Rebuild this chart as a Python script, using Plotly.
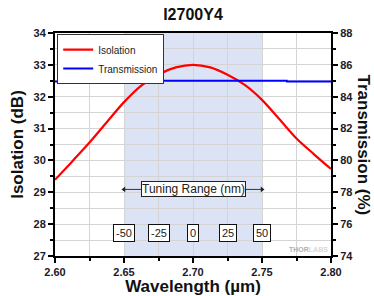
import plotly.graph_objects as go

# Data
wl_iso = [2.60, 2.6125, 2.625, 2.6375, 2.65, 2.6625, 2.675, 2.6875, 2.70,
          2.7125, 2.725, 2.7375, 2.75, 2.7625, 2.775, 2.7875, 2.80]
isolation = [29.39, 29.97, 30.56, 31.2, 31.83, 32.35, 32.7, 32.92, 33.0,
             32.92, 32.69, 32.37, 31.9, 31.3, 30.69, 30.2, 29.73]

wl_tr = [2.60, 2.638, 2.6381, 2.768, 2.7681, 2.80]
transmission = [84.95, 84.95, 85.0, 85.0, 84.95, 84.95]

tuning_pos = [2.65, 2.675, 2.70, 2.725, 2.75]
tuning_labels = ["-50", "-25", "0", "25", "50"]
tuning_range = [2.65, 2.75]

FONT = "Liberation Sans, Arial, sans-serif"

fig = go.Figure()
fig.add_trace(go.Scatter(x=wl_iso, y=isolation, name="Isolation", mode="lines",
                         line=dict(color="#ff0000", width=2.2, shape="spline", smoothing=0.8)))
fig.add_trace(go.Scatter(x=wl_tr, y=transmission, name="Transmission", mode="lines",
                         line=dict(color="#0000ff", width=2), yaxis="y2"))

# tuning range arrow
fig.add_trace(go.Scatter(x=tuning_range, y=[29.09, 29.09], mode="lines+markers",
                         line=dict(color="#333333", width=1),
                         marker=dict(symbol=["triangle-left", "triangle-right"], size=5, color="#222222"),
                         showlegend=False, hoverinfo="skip"))

fig.add_shape(type="rect", xref="x", yref="paper", x0=tuning_range[0], x1=tuning_range[1],
              y0=0, y1=1, fillcolor="#dbe3f4", line_width=0, layer="below")

fig.add_annotation(x=2.70, y=29.09, xref="x", yref="y", text="Tuning Range (nm)",
                   showarrow=False, font=dict(family=FONT, size=12, color="#222222"),
                   bgcolor="white", bordercolor="#222222", borderwidth=1, borderpad=0)

for p, lab in zip(tuning_pos, tuning_labels):
    fig.add_annotation(x=p, y=27.73, xref="x", yref="y", text=lab, showarrow=False,
                       font=dict(family=FONT, size=11, color="#222222"),
                       bgcolor="white", bordercolor="#111111", borderwidth=1, borderpad=2)

fig.add_annotation(x=0.996, y=0.031, xref="paper", yref="paper", xanchor="right", yanchor="middle",
                   text="<b>THOR</b><span style='color:#d8d8d8'><b>LABS</b></span>", showarrow=False,
                   font=dict(family=FONT, size=7, color="#b0b0b0"))

fig.add_annotation(x=1.116, y=0.5, xref="paper", yref="paper", xanchor="center", yanchor="middle",
                   text="<b>Transmission (%)</b>",
                   textangle=90, showarrow=False, font=dict(family=FONT, size=17, color="#111111"))

tfont = dict(family=FONT, size=11, color="#1a1a2a", weight="bold")

fig.update_layout(
    width=374, height=296,
    margin=dict(l=55, r=43, t=33, b=40, autoexpand=False),
    paper_bgcolor="white", plot_bgcolor="white",
    title=dict(text="<b>I2700Y4</b>", x=0.516, xanchor="center", y=0.95, yanchor="middle",
               font=dict(family=FONT, size=16, color="#111111")),
    showlegend=True,
    legend=dict(x=0.008, y=0.995, xanchor="left", yanchor="top", bgcolor="white",
                bordercolor="#333333", borderwidth=1,
                font=dict(family=FONT, size=10, color="#222222"), tracegroupgap=0),
    xaxis=dict(range=[2.60, 2.80], dtick=0.05, tick0=2.60, tickformat=".2f", automargin=False,
               showgrid=True, gridcolor="#d4d4d4", gridwidth=1,
               minor=dict(dtick=0.025, showgrid=True, gridcolor="#d4d4d4", ticks="outside",
                          ticklen=3, tickcolor="black"),
               ticks="outside", ticklen=5, tickwidth=1.5, tickcolor="black",
               showline=True, linecolor="black", linewidth=2, mirror=True,
               zeroline=False, tickfont=tfont,
               title=dict(text="<b>Wavelength (µm)</b>", standoff=1,
                          font=dict(family=FONT, size=17, color="#111111"))),
    yaxis=dict(range=[27, 34], dtick=1, showgrid=True, gridcolor="#d4d4d4", gridwidth=1,
               automargin=False,
               minor=dict(dtick=0.5, showgrid=True, gridcolor="#d4d4d4", ticks="outside",
                          ticklen=3, tickcolor="black"),
               ticks="outside", ticklen=5, tickwidth=1.5, tickcolor="black",
               showline=True, linecolor="black", linewidth=2, zeroline=False,
               tickfont=tfont,
               title=dict(text="<b>Isolation (dB)</b>", standoff=6,
                          font=dict(family=FONT, size=17, color="#111111"))),
    yaxis2=dict(range=[74, 88], dtick=2, overlaying="y", side="right", showgrid=False,
                automargin=False,
                minor=dict(dtick=1, ticks="outside", ticklen=3, tickcolor="black"),
                ticks="outside", ticklen=5, tickwidth=1.5, tickcolor="black",
                showline=True, linecolor="black", linewidth=2, zeroline=False,
                tickfont=tfont),
)

fig.write_html("out.html", config={"displayModeBar": False},
               post_script="document.body.style.margin='0';document.body.style.padding='0';")
